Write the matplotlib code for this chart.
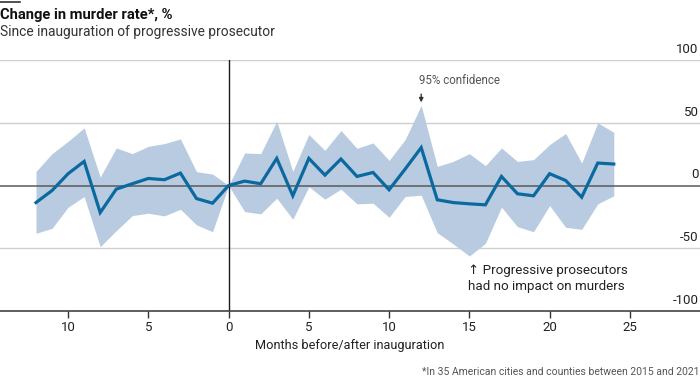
import matplotlib
matplotlib.use("Agg")
import matplotlib.pyplot as plt
from matplotlib.ticker import FuncFormatter

plt.rcParams['font.family'] = ['Roboto', 'DejaVu Sans']

months = list(range(-12, 25))
change = [-13.6, -4, 9.4, 19.2, -21.6, -2.9, 1.4, 5.6, 4.6, 9.9, -10.4, -14.1, 0,
          3.5, 1.4, 21.6, -8.2, 21.6, 8.3, 21.1, 7.2, 10.4, -3.4, 13.1, 30.2,
          -11.4, -13.6, -14.6, -15.4, 7.2, -6.6, -8.2, 9.4, 4, -9.3, 17.9, 17.1]
upper = [11.2, 25.4, 35.2, 45.9, 6.7, 29.9, 25.4, 31.2, 33.4, 37.1, 11, 9.1, 0,
         25.9, 25.4, 51.2, 11.2, 40.6, 28, 43.8, 29.6, 33.9, 20, 36.6, 63.8,
         15.2, 19.2, 25.4, 15.8, 29.9, 19.2, 20.6, 32.6, 41.4, 17.9, 49.9, 42.4]
lower = [-38.1, -34.1, -17.3, -8.8, -48.8, -36, -24, -22.1, -24.2, -18.9, -31.4, -36.8, 0,
         -20.8, -22.6, -10.1, -26.9, -1, -10.9, -2.9, -14.6, -14.1, -25.3, -8.8, -7.7,
         -37.6, -46.6, -56.2, -46.1, -17.3, -32.8, -36.8, -16, -33.3, -34.9, -14.6, -8.2]
yticks = [-100, -50, 0, 50, 100]
xticks = [-10, -5, 0, 5, 10, 15, 20, 25]

W, H = 700, 382
fig = plt.figure(figsize=(7, 3.82), dpi=100)
ax = fig.add_axes([0, 1 - 311 / H, 1, (311 - 60) / H])
x0 = (0 - 228.6) / 16.05
x1 = (700 - 228.6) / 16.05
ax.set_xlim(x0, x1)
ax.set_ylim(-100, 100)

ax.fill_between(months, lower, upper, color='#b9cbe0', lw=0, zorder=1)
for yv in [50, 100, -50]:
    ax.axhline(yv, color='#cfcfcf', lw=1, zorder=0)
ax.axhline(0, color='#5a5a5a', lw=1.1, zorder=2)
ax.axvline(0, color='#1a1a1a', lw=1, zorder=2)
ax.plot(months, change, color='#0a6aa0', lw=2.3, zorder=3, solid_joinstyle='miter')

for s in ['top', 'left', 'right']:
    ax.spines[s].set_visible(False)
ax.spines['bottom'].set_color('#333333')
ax.spines['bottom'].set_linewidth(1.1)
ax.set_yticks([])
ax.set_xticks(xticks)
ax.xaxis.set_major_formatter(FuncFormatter(lambda v, p: f"{abs(int(v))}"))
ax.tick_params(axis='x', length=5, width=1, color='#333333', labelsize=9.5, pad=2, labelcolor='#222222')

for yv in yticks:
    ax.annotate(f"{yv}", xy=(1, yv), xycoords=('axes fraction', 'data'),
                xytext=(-1, 3), textcoords='offset points', ha='right', va='bottom',
                fontsize=9.5, color='#222222')

ax.set_xlabel("Months before/after inauguration", fontsize=9.2, color='#222222', labelpad=4)

ax.annotate("", xy=(12, 64), xytext=(12, 75), arrowprops=dict(arrowstyle='-|>', color='#333333', lw=1, mutation_scale=6))
ax.text(11.85, 84, "95% confidence", fontsize=8.3, color='#555555', ha='left', va='center')
ax.text(14.9, -62.5, "↑ Progressive prosecutors\nhad no impact on murders", fontsize=9.6, color='#222222',
        ha='left', va='top', linespacing=1.3)

fig.add_artist(plt.Line2D([0, 20 / W], [1 - 2 / H, 1 - 2 / H], color='#333333', lw=1.2))
fig.text(0, 1 - 8 / H, "Change in murder rate*, %", fontsize=10.6, fontweight='bold', color='#111111', ha='left', va='top')
fig.text(0, 1 - 25 / H, "Since inauguration of progressive prosecutor", fontsize=9.9, color='#333333', ha='left', va='top')
fig.text(1, 1 - 377 / H, "*In 35 American cities and counties between 2015 and 2021", fontsize=7.5, color='#555555', ha='right', va='bottom')

fig.savefig("out.png", dpi=100)
